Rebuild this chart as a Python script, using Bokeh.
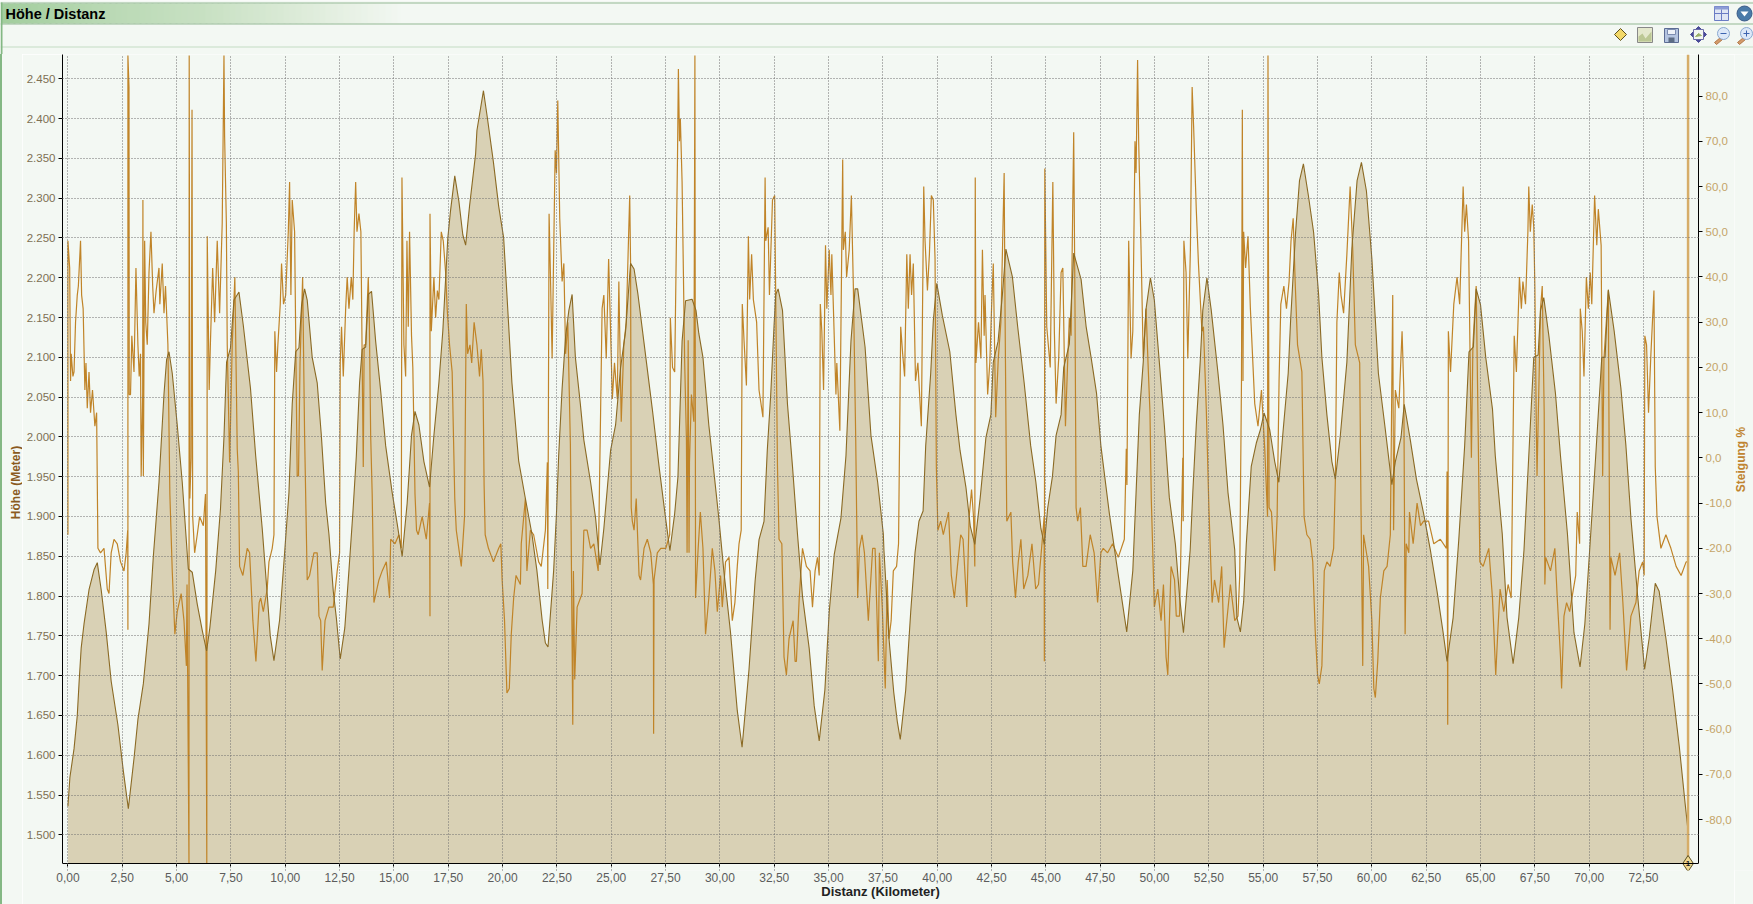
from bokeh.embed import file_html
from bokeh.resources import INLINE
from bokeh.plotting import figure
from bokeh.layouts import column, row
from bokeh.core.properties import value
from bokeh.models import Range1d, LinearAxis, FixedTicker
import math

elevation_km = [
0.00,0.09,0.28,0.43,0.51,0.61,0.74,0.97,1.20,1.35,1.53,1.76,1.99,2.30,2.55,2.78,3.04,3.22,3.47,3.73,3.93,4.19,4.42,4.54,4.65,4.80,5.03,5.26,5.54,5.72,5.95,6.18,6.38,6.53,6.80,7.02,7.18,7.30,7.48,7.64,7.87,8.07,8.40,8.64,8.94,9.14,
9.31,9.48,9.74,9.98,10.17,10.32,10.48,10.63,10.75,10.89,11.01,11.24,11.47,11.66,11.86,12.01,12.21,12.35,12.53,12.74,12.93,13.11,13.27,13.42,13.54,13.70,13.82,13.97,14.16,14.39,14.62,14.92,15.15,15.38,15.61,15.81,15.97,16.15,16.38,16.64,16.84,17.07,17.25,17.48,17.60,17.80,17.99,18.17,18.30,18.48,18.76,
18.82,19.12,19.30,19.58,19.82,20.05,20.20,20.43,20.74,21.02,21.35,21.58,21.82,21.97,22.09,22.35,22.48,22.58,22.74,22.90,23.05,23.20,23.35,23.58,23.74,24.05,24.28,24.48,24.66,24.97,25.20,25.43,25.66,25.89,26.05,26.23,26.50,26.89,27.20,27.50,27.70,27.92,28.07,
28.26,28.42,28.72,28.90,29.03,29.22,29.49,29.72,29.95,30.18,30.49,30.80,31.02,31.34,31.62,31.80,32.03,32.18,32.34,32.49,32.57,32.68,32.88,33.11,33.34,33.57,33.80,34.11,34.34,34.57,34.83,35.03,35.26,35.57,35.80,36.03,36.22,36.34,36.68,36.95,37.26,37.52,
37.55,37.78,38.00,38.16,38.30,38.55,38.78,38.98,39.16,39.35,39.47,39.70,39.82,39.98,40.24,40.58,40.86,41.05,41.32,41.52,41.73,41.98,42.24,42.47,42.58,42.80,43.00,43.16,43.46,43.70,44.00,44.30,44.54,44.77,44.93,45.08,45.30,45.47,45.70,45.82,46.08,46.28,46.62,46.85,47.08,
47.33,47.53,47.92,48.30,48.72,49.00,49.15,49.30,49.48,49.60,49.81,49.99,50.22,50.45,50.68,50.96,51.15,51.33,51.64,51.76,51.92,52.10,52.22,52.41,52.61,52.92,53.15,53.38,53.69,53.79,53.95,54.10,54.22,54.45,54.68,54.87,55.04,55.30,55.53,55.72,55.92,56.15,
56.26,56.49,56.67,56.85,57.08,57.32,57.55,57.70,57.93,58.16,58.32,58.55,58.85,59.08,59.32,59.52,59.75,60.00,60.30,60.62,60.92,61.08,61.34,61.49,61.77,62.05,62.38,62.69,63.00,63.28,63.46,63.74,64.00,64.27,64.47,64.67,64.80,65.00,65.24,65.55,
65.68,66.00,66.22,66.50,66.76,67.00,67.22,67.45,67.65,67.76,67.91,68.15,68.45,68.68,69.00,69.30,69.58,69.80,70.07,70.30,70.58,70.73,70.88,71.15,71.46,71.69,71.92,72.23,72.55,72.76,73.04,73.22,73.53,73.84,74.15,74.42,74.55,74.55]
elevation_m = [
1536,1572,1608,1650,1690,1735,1765,1808,1833,1842,1808,1755,1693,1638,1580,1533,1596,1645,1690,1765,1850,1943,2054,2097,2107,2080,2015,1943,1834,1830,1790,1757,1731,1760,1832,1910,2000,2094,2112,2172,2182,2140,2061,1976,1885,1813,
1750,1719,1770,1858,1930,2041,2107,2112,2165,2186,2172,2100,2068,2002,1917,1878,1806,1773,1721,1760,1832,1904,1976,2068,2110,2113,2179,2183,2120,2058,1989,1930,1891,1850,1917,2002,2032,2015,1969,1937,2002,2068,2133,2250,2283,2328,2296,2254,2241,2290,2356,
2385,2435,2401,2345,2290,2250,2179,2068,1970,1927,1878,1832,1770,1741,1736,1832,1904,1976,2061,2126,2159,2179,2100,2041,1996,1943,1898,1839,1885,1983,2015,2087,2133,2218,2211,2179,2120,2035,1963,1898,1857,1904,1950,
2120,2171,2173,2159,2130,2100,2015,1957,1898,1832,1754,1656,1610,1708,1819,1871,1894,1983,2054,2139,2179,2186,2159,2041,1963,1878,1800,1734,1662,1618,1682,1780,1852,1898,1976,2120,2186,2186,2113,2002,1943,1878,
1857,1747,1679,1643,1620,1682,1780,1855,1894,1907,1989,2080,2146,2193,2152,2107,2028,1983,1937,1888,1865,1924,1999,2028,2094,2120,2179,2236,2201,2139,2068,1989,1943,1885,1865,1910,1950,2002,2028,2087,2117,2231,2198,2139,2100,
2055,1989,1904,1832,1755,1832,1930,2028,2094,2159,2200,2172,2094,2015,1924,1865,1800,1754,1858,1930,2015,2094,2159,2200,2159,2080,2015,1930,1858,1773,1755,1793,1865,1963,1992,2009,2030,2009,1969,1943,2009,2080,
2146,2257,2322,2343,2303,2257,2179,2100,2028,1969,1947,2002,2094,2237,2322,2345,2309,2224,2080,2009,1940,1969,1999,2041,1996,1947,1904,1858,1806,1754,1718,1773,1871,1989,2107,2113,2186,2166,2100,2035,
1976,1878,1773,1715,1773,1858,1976,2100,2103,2159,2175,2126,2054,1976,1878,1754,1711,1765,1878,1976,2100,2100,2185,2133,2061,1989,1898,1800,1708,1747,1816,1806,1747,1682,1610,1538,1505,1464]

slope_km = [
0.00,0.00,0.08,0.12,0.15,0.23,0.28,0.35,0.43,0.48,0.58,0.63,0.70,0.78,0.83,0.89,0.97,1.04,1.13,1.24,1.32,1.38,1.50,1.66,1.81,1.89,1.99,2.12,2.27,2.42,2.58,2.68,2.75,2.76,2.76,2.81,2.82,2.88,2.94,3.04,3.13,3.22,3.28,3.34,3.37,3.44,3.45,3.47,3.53,3.58,3.65,3.73,3.82,3.90,3.96,4.06,4.19,4.23,4.34,4.42,4.49,4.60,4.69,4.80,4.92,5.03,5.21,5.34,5.45,5.48,5.57,5.58,5.61,5.67,5.71,5.74,5.83,5.95,6.06,6.23,6.33,6.39,6.41,6.50,6.56,6.66,6.75,6.87,6.98,7.10,7.18,7.21,7.29,7.33,7.44,7.56,7.68,7.79,7.84,7.90,8.05,8.25,8.36,8.51,8.65,8.80,8.87,8.99,9.17,
9.25,9.40,9.48,9.52,9.60,9.66,9.77,9.83,9.92,10.02,10.14,10.20,10.26,10.32,10.43,10.55,10.61,10.68,10.80,10.89,11.01,11.12,11.32,11.47,11.55,11.63,11.70,11.83,12.01,12.21,12.39,12.50,12.53,12.59,12.67,12.78,12.85,12.93,13.04,13.11,13.17,13.24,13.30,13.39,13.48,13.59,13.63,13.70,13.82,13.87,13.93,14.00,14.08,14.31,14.46,14.65,14.80,14.85,15.05,15.23,15.34,15.37,15.41,15.46,15.54,15.60,15.66,15.72,15.81,15.87,15.97,16.04,16.12,16.30,16.49,16.64,16.66,16.66,16.72,16.84,16.92,17.00,17.07,17.18,17.27,17.38,17.45,17.56,17.68,17.80,17.87,18.10,18.25,18.33,18.39,
18.50,18.58,18.69,18.82,18.94,19.02,19.10,19.15,19.20,19.35,19.58,19.82,19.92,19.98,20.09,20.20,20.31,20.40,20.51,20.62,20.82,20.86,21.05,21.12,21.28,21.43,21.66,21.78,21.97,22.06,22.08,22.14,22.20,22.28,22.42,22.48,22.54,22.63,22.74,22.82,22.90,23.00,23.12,23.23,23.26,23.32,23.43,23.66,23.74,23.89,24.05,24.20,24.40,24.51,24.58,24.66,24.77,24.88,24.97,25.05,25.15,25.28,25.35,25.46,25.58,25.69,25.85,25.89,25.92,25.97,26.05,26.15,26.28,26.35,26.51,26.66,26.82,26.94,26.95,26.97,27.12,27.28,27.51,27.69,27.72,27.82,27.92,28.05,28.09,28.14,
28.18,28.26,28.38,28.46,28.49,28.54,28.58,28.60,28.69,28.80,28.85,28.88,29.00,29.10,29.22,29.34,29.49,29.65,29.77,29.88,30.03,30.11,30.26,30.42,30.57,30.69,30.80,30.88,30.98,31.03,31.11,31.22,31.31,31.37,31.46,31.54,31.69,31.80,31.98,32.08,32.11,32.22,32.28,32.42,32.52,32.65,32.72,32.85,32.95,33.06,33.18,33.37,33.46,33.52,33.65,33.80,33.98,34.15,34.26,34.38,34.49,34.57,34.62,34.69,34.77,34.86,34.92,35.03,35.11,35.15,35.26,35.34,35.38,35.52,35.65,35.68,35.77,35.83,35.95,36.05,36.14,36.25,36.34,36.42,36.54,36.65,36.83,37.03,37.14,37.29,37.34,37.47,37.61,
37.70,37.78,37.88,37.98,38.13,38.22,38.32,38.41,38.50,38.60,38.67,38.75,38.82,38.90,39.00,39.11,39.27,39.38,39.44,39.55,39.64,39.73,39.82,39.90,39.96,40.03,40.16,40.28,40.52,40.65,40.79,40.93,41.08,41.19,41.36,41.47,41.58,41.67,41.73,41.75,41.78,41.90,42.01,42.08,42.16,42.20,42.32,42.42,42.50,42.58,42.69,42.81,42.93,43.08,43.12,43.20,43.39,43.47,43.60,43.73,43.85,43.98,44.17,44.36,44.53,44.66,44.82,44.92,44.93,44.95,45.04,45.20,45.32,45.39,45.47,45.59,45.70,45.78,45.90,46.00,46.08,46.16,46.28,46.34,46.39,46.46,46.59,46.70,46.85,47.04,
47.22,47.38,47.53,47.64,47.84,48.07,48.33,48.61,48.70,48.73,48.81,48.92,49.00,49.10,49.15,49.22,49.27,49.38,49.48,49.61,49.70,49.79,49.85,49.99,50.15,50.30,50.41,50.53,50.61,50.76,50.92,51.00,51.15,51.30,51.32,51.35,51.45,51.53,51.65,51.73,51.80,51.92,52.02,52.18,52.25,52.38,52.50,52.65,52.76,52.95,53.09,53.20,53.49,53.69,53.84,53.92,54.00,54.04,54.07,54.10,54.19,54.30,54.41,54.61,54.76,54.92,55.07,55.20,55.22,55.27,55.38,55.53,55.64,55.73,55.81,55.95,56.07,56.19,
56.28,56.38,56.47,56.58,56.78,56.88,57.01,57.16,57.28,57.39,57.50,57.58,57.70,57.81,57.93,58.08,58.24,58.32,58.39,58.50,58.58,58.70,58.85,59.00,59.12,59.24,59.44,59.50,59.58,59.62,59.85,60.00,60.09,60.16,60.27,60.39,60.55,60.70,60.85,60.96,61.00,61.08,61.24,61.39,61.47,61.53,61.58,61.70,61.73,61.90,62.08,62.24,62.38,62.61,62.85,63.15,63.43,63.46,63.49,63.52,63.62,63.77,63.92,64.04,64.20,64.27,64.35,64.45,64.58,64.65,64.80,64.88,64.97,65.12,65.38,65.55,65.70,
65.80,65.90,66.07,66.27,66.41,66.45,66.55,66.65,66.79,66.88,66.95,67.07,67.18,67.22,67.29,67.38,67.45,67.50,67.56,67.60,67.76,67.84,67.93,67.96,68.00,68.22,68.42,68.53,68.68,68.73,68.84,68.96,69.10,69.38,69.45,69.56,69.59,69.68,69.76,69.87,69.96,70.05,70.12,70.25,70.35,70.42,70.55,70.62,70.68,70.88,70.96,71.00,71.19,71.40,71.55,71.72,71.92,72.15,72.30,72.46,72.53,72.56,72.64,72.73,72.84,72.98,73.04,73.12,73.30,73.53,73.76,74.00,74.23,74.46,74.53,74.55,74.55,74.55]
slope_pct = [
-17,48,42,17,23,18,19,30,36,38,48,36,33,15,21,11,19,10,15,7,10,-20,-21,-20,-29,-30,-21,-18,-19,-23,-25,-21,-16,-38,89,82,14,14,27,19,42,25,18,23,-4,14,57,-4,48,30,25,41,50,38,32,37,42,34,43,32,38,25,-8,-25,-39,-34,-30,-36,-46,-28,-89.6,89,-9,0,77,-13,-21,-17,-13,-15,-8,-89.6,49,15,26,42,30,48,32,52,89,71,52,25,-1,25,40,2,-3,-24,-26,-20,-21,-36,-45,-32,-31,-34,-29,
-23,-20,-17,28,19,25,34,43,34,36,50,61,36,57,50,-4,-4,21,40,5,-27,-26,-21,-21,-35,-36,-47,-36,-33,-33,-25,-21,21,29,18,33,40,33,40,35,50,61,50,54,50,-2,25,25,40,30,5,-8,-32,-27,-25,-23,-31,-18,-19,-17,-20,62,46,25,18,48,29,50,27,20,-8,-16,-17,-13,-18,-10,-35,54,28,40,31,37,35,50,48,41,33,25,19,-9,-16,-24,-13,34,23,
25,21,30,25,18,24,17,-6,-17,-20,-23,-20,-19,-27,-36,-52,-51,-39,-31,-26,-28,-19,-9,-25,-16,-17,-23,-24,-16,-1,-29,54,41,22,68,63,79,53,39,43,23,30,3,-59,-25,-49,-33,-30,-16,-16,-20,-19,-25,10,33,36,22,44,28,13,21,13,39,8,25,30,58,43,-11,-14,-16,-9,-26,-27,-20,-18,-21,-28,-61,-27,-21,-20,-20,-17,31,20,19,67,86,70,
75,61,21,4,-21,26,-21,-1,14,8,89,-31,-20,-12,-20,-39,-31,-20,-25,-34,-26,-33,-23,-22,-36,-32,-24,-19,-16,34,26,16,49,35,45,35,30,15,9,62,48,51,36,57,58,-2,-18,-19,-44,-48,-40,-36,-45,-45,-31,-20,-24,-25,-33,-25,-22,-26,34,28,15,47,33,46,36,45,27,14,21,6,66,46,50,40,46,58,38,4,-31,-20,-17,-21,-36,-20,-20,-45,-21,-33,-51,
-27,-40,-36,-25,-24,-19,29,23,18,45,33,45,36,43,17,21,7,60,48,37,45,58,57,44,-2,-16,-14,-17,-12,-26,-31,-24,-17,-18,-33,-13,-7,-13,-24,62,21,30,22,46,27,36,14,21,33,43,9,22,30,63,33,-14,-12,-23,-31,-23,-18,-29,-26,-19,-29,-28,-19,-13,-45,64,29,20,61,28,12,22,41,42,7,21,31,27,72,33,-11,-14,-11,-24,-24,-17,
-21,-32,-21,-20,-21,-19,-22,-18,2,-6,48,22,28,70,63,88,70,46,22,33,21,10,-9,-33,-29,-36,-28,-44,-48,-24,-27,-35,-35,0,-14,48,41,22,46,82,73,55,43,28,29,11,-11,-32,-27,-32,-24,-42,-28,-36,-35,-26,17,77,17,50,42,49,33,12,7,15,2,-13,89,-11,-12,-25,-13,17,34,38,33,39,
48,53,39,25,19,-13,-17,-18,-23,-38,-48,-50,-46,-25,-23,-24,-20,-5,30,41,36,32,45,60,46,25,21,-11,-46,-17,-24,-36,-51,-53,-45,-31,-25,-24,-17,36,-16,15,11,28,15,-39,-19,-21,-12,-19,-10,-15,-14,-14,-19,-18,-20,-3,-59,28,19,34,40,34,60,50,56,48,0,25,38,10,-23,-24,-20,-31,-48,
-38,-29,-34,-28,-31,-16,27,19,40,33,39,34,50,60,50,56,51,38,10,-4,33,38,10,-28,-22,-25,-20,-31,-44,-51,-35,-32,-34,-26,-12,-19,33,28,18,40,33,41,34,58,47,55,47,-4,22,37,-38,-22,-26,-21,-32,-47,-35,-32,-25,-23,-26,27,25,10,23,37,-2,-13,-20,-17,-20,-24,-26,-23,-23,18,89,-89.6]

x_ticks = [0.0,2.5,5.0,7.5,10.0,12.5,15.0,17.5,20.0,22.5,25.0,27.5,30.0,32.5,35.0,37.5,40.0,42.5,45.0,47.5,50.0,52.5,55.0,57.5,60.0,62.5,65.0,67.5,70.0,72.5]
x_tick_labels = ["0,00","2,50","5,00","7,50","10,00","12,50","15,00","17,50","20,00","22,50","25,00","27,50","30,00","32,50","35,00","37,50","40,00","42,50","45,00","47,50","50,00","52,50","55,00","57,50","60,00","62,50","65,00","67,50","70,00","72,50"]
y_ticks = [1500,1550,1600,1650,1700,1750,1800,1850,1900,1950,2000,2050,2100,2150,2200,2250,2300,2350,2400,2450]
y_tick_labels = ["1.500","1.550","1.600","1.650","1.700","1.750","1.800","1.850","1.900","1.950","2.000","2.050","2.100","2.150","2.200","2.250","2.300","2.350","2.400","2.450"]
y2_ticks = [-80,-70,-60,-50,-40,-30,-20,-10,0,10,20,30,40,50,60,70,80]
y2_tick_labels = ["-80,0","-70,0","-60,0","-50,0","-40,0","-30,0","-20,0","-10,0","0,0","10,0","20,0","30,0","40,0","50,0","60,0","70,0","80,0"]

BG = "#f3f8f3"
EDGE = "#84b884"
FONT = "Liberation Sans"
Y_BOTTOM, Y_TOP = 1464, 2480.5
S_BOTTOM, S_TOP = -89.7, 89.2
STRIP_L, STRIP_R = 22, 1734   # page x where the side strips end/begin
HEAD = 54                     # page y where the plot starts
FRAME_B = 870                 # page y of the bottom of the plot frame (axis line is 7px above it)


def panel(width, height, x0, x1, y0, y1):
    f = figure(width=width, height=height, output_backend="svg", toolbar_location=None,
               x_range=Range1d(x0, x1), y_range=Range1d(y1, y0), background_fill_color=BG, border_fill_color=BG,
               outline_line_color=None, min_border=0, x_axis_location=None, y_axis_location=None)
    f.grid.visible = False
    return f


# ---- main plot
p = figure(width=STRIP_R - STRIP_L, height=904 - HEAD, output_backend="svg", toolbar_location=None,
           x_range=Range1d(-0.25, 75.03), y_range=Range1d(Y_BOTTOM - 8.8, Y_TOP),
           background_fill_color=BG, border_fill_color=BG, outline_line_color=None,
           min_border_left=62 - STRIP_L, min_border_right=STRIP_R - 1698, min_border_top=0, min_border_bottom=904 - FRAME_B)
p.extra_y_ranges["slope"] = Range1d(S_BOTTOM - 1.55, S_TOP)

p.varea(elevation_km, y1=Y_BOTTOM, y2=elevation_m, fill_color="#d9d1b5")
p.line(slope_km, slope_pct, y_range_name="slope", line_color="#c08428", line_width=1.2)
p.line(elevation_km, elevation_m, line_color="#8b6a24", line_width=1.1)
p.segment(slope_km[-1], S_BOTTOM, slope_km[-1], S_TOP, y_range_name="slope", line_color="#d6ad68", line_width=2.5)

for grid in (p.xgrid[0], p.ygrid[0]):
    grid.level = "guide"
    grid.grid_line_color = "#6e6e6e"
    grid.grid_line_dash = "1 2"
    grid.grid_line_width = 1
p.xgrid[0].ticker = FixedTicker(ticks=x_ticks)
p.ygrid[0].ticker = FixedTicker(ticks=y_ticks)
p.xgrid[0].bounds = (Y_BOTTOM, Y_TOP)

# labels and title sit in the panel below the frame
xa = p.xaxis[0]
xa.ticker = FixedTicker(ticks=x_ticks)
xa.major_label_overrides = dict(zip(x_ticks, x_tick_labels))
xa.major_label_standoff = -4
xa.major_label_text_font = FONT
xa.major_label_text_font_size = "12px"
xa.major_label_text_color = "#5c5c5c"
xa.axis_line_color = None
xa.major_tick_line_color = None
xa.minor_tick_line_color = None
xa.axis_label = "Distanz (Kilometer)"
xa.axis_label_text_font = FONT
xa.axis_label_text_font_style = "bold"
xa.axis_label_text_font_size = "13px"
xa.axis_label_text_color = "#222222"
xa.axis_label_standoff = -1

# axis line and ticks stay inside the frame so that the end marker can straddle them
xl = LinearAxis(fixed_location=Y_BOTTOM, ticker=FixedTicker(ticks=x_ticks), major_label_text_color=None,
                axis_line_color="black", major_tick_line_color="black", major_tick_out=3, major_tick_in=0,
                minor_tick_line_color=None)
p.add_layout(xl, "below")

ya = p.yaxis[0]
ya.bounds = (Y_BOTTOM, Y_TOP)
ya.ticker = FixedTicker(ticks=y_ticks)
ya.major_label_overrides = dict(zip(y_ticks, y_tick_labels))
ya.major_label_standoff = 3
ya.major_label_text_font = FONT
ya.major_label_text_font_size = "11.5px"
ya.major_label_text_color = "#7d6f52"
ya.axis_line_color = "black"
ya.major_tick_line_color = "black"
ya.major_tick_out = 4
ya.major_tick_in = 0
ya.minor_tick_line_color = None

y2 = LinearAxis(y_range_name="slope", ticker=FixedTicker(ticks=y2_ticks), bounds=(S_BOTTOM, S_TOP))
y2.major_label_overrides = dict(zip(y2_ticks, y2_tick_labels))
y2.major_label_standoff = 3
y2.major_label_text_font = FONT
y2.major_label_text_font_size = "11.5px"
y2.major_label_text_color = "#c4a468"
y2.axis_line_color = "black"
y2.major_tick_line_color = "black"
y2.major_tick_out = 4
y2.major_tick_in = 0
y2.minor_tick_line_color = None
p.add_layout(y2, "right")

# end-of-track marker
p.scatter([elevation_km[-1]], [Y_BOTTOM], marker="diamond", size=16, fill_color="#f0d890", line_color="#5c5020")
p.text([elevation_km[-1]], [Y_BOTTOM], text=["1"], text_font=value(FONT), text_font_size="8px", text_font_style="bold",
       text_color="#222222", text_align="center", text_baseline="middle")

# ---- header: title bar and tool bar (page pixels)
hd = panel(1753, HEAD, 0, 1753, 0, HEAD)


def box(l, t, r, b, color, line=None):
    hd.quad(left=[l], right=[r], top=[t], bottom=[b], fill_color=color, line_color=line)


def poly(xs, ys, color, line="#555555"):
    hd.patch(xs, ys, fill_color=color, line_color=line, line_width=1)


stops = [(0, (163, 206, 158)), (100, (185, 217, 180)), (200, (200, 225, 195)), (300, (222, 236, 218)), (400, (243, 248, 243))]
x = 1
while x < 400:
    for (a, ca), (b, cb) in zip(stops, stops[1:]):
        if a <= x < b:
            t = (x - a) / (b - a)
            c = tuple(int(ca[i] + (cb[i] - ca[i]) * t) for i in range(3))
    box(x, 3, min(x + 8, 400), 23, "#%02x%02x%02x" % c)
    x += 6
box(0, 2, 1753, 3, "#93b893")
box(0, 23, 1753, 24, "#93b893")
box(0, 46, 1753, 47, "#c4dcc4")
box(0, 2, 2, HEAD, EDGE)
hd.text([5], [13], text=["Höhe / Distanz"], text_font=value(FONT), text_font_style="bold", text_font_size="14.5px",
        text_color="#000000", text_baseline="middle")

box(1714, 6, 1728, 20, "#dfe6f4", "#6a7cc4")
box(1714, 6, 1728, 9, "#8d9cd6")
hd.segment([1714, 1721], [13, 9], [1728, 1721], [13, 20], line_color="#6a7cc4")
hd.circle([1744], [13], radius=7.5, fill_color="#4a7aa8", line_color="#3c5c88")
poly([1740, 1748, 1744], [11, 11, 16], "#ffffff", None)

poly([1620, 1626, 1620, 1614], [28, 34, 40, 34], "#f2d868", "#5c5020")
box(1637, 27, 1652, 42, "#e4e8cc", "#888888")
poly([1638, 1642, 1645, 1651, 1651, 1638], [36, 33, 38, 31, 41, 41], "#bcc894", None)
box(1664, 28, 1678, 42, "#b4c4e0", "#5c6c94")
box(1667, 29, 1675, 34, "#eef2f8", "#7c8cb0")
box(1668, 37, 1674, 42, "#5c6c84")
poly([1698, 1706, 1698, 1690], [26, 34, 42, 34], "#4a4a98", "#4a4a98")
box(1693, 29, 1703, 39, "#f2f6f2", "#6a6aa8")
poly([1695, 1698, 1701], [36, 33, 35], "#9ab06a", "#9ab06a")
for cx, plus in ((1723, False), (1746, True)):
    poly([cx - 3, cx - 1, cx - 7, cx - 9], [37, 39, 44, 42], "#d49a6a", "#b07848")
    hd.circle([cx], [33], radius=6, fill_color="#dce8f8", line_color="#8aa8d0")
    box(cx - 3, 32.5, cx + 3, 33.5, "#3c64b0")
    if plus:
        box(cx - 0.5, 30, cx + 0.5, 36, "#3c64b0")

# ---- side strips with the y axis titles and the window's left edge
left = panel(STRIP_L, 904 - HEAD, 0, STRIP_L, HEAD, FRAME_B)
left.background_fill_alpha = 0
left.border_fill_alpha = 0
left.styles = {"background": f"linear-gradient(to right, {EDGE} 2px, {BG} 2px)"}
left.text([15], [482], text=["Höhe (Meter)"], text_font=value(FONT), text_font_style="bold", text_font_size="12px",
          text_color="#8a5a1e", angle=math.pi / 2, text_align="center", text_baseline="middle")

right = panel(1753 - STRIP_R, 904 - HEAD, STRIP_R, 1753, HEAD, FRAME_B)
right.text([1740], [459], text=["Steigung %"], text_font=value(FONT), text_font_style="bold", text_font_size="12px",
           text_color="#c08430", angle=math.pi / 2, text_align="center", text_baseline="middle")

page = column(hd, row(left, p, right))
open("out.html", "w").write(file_html(page, INLINE))
